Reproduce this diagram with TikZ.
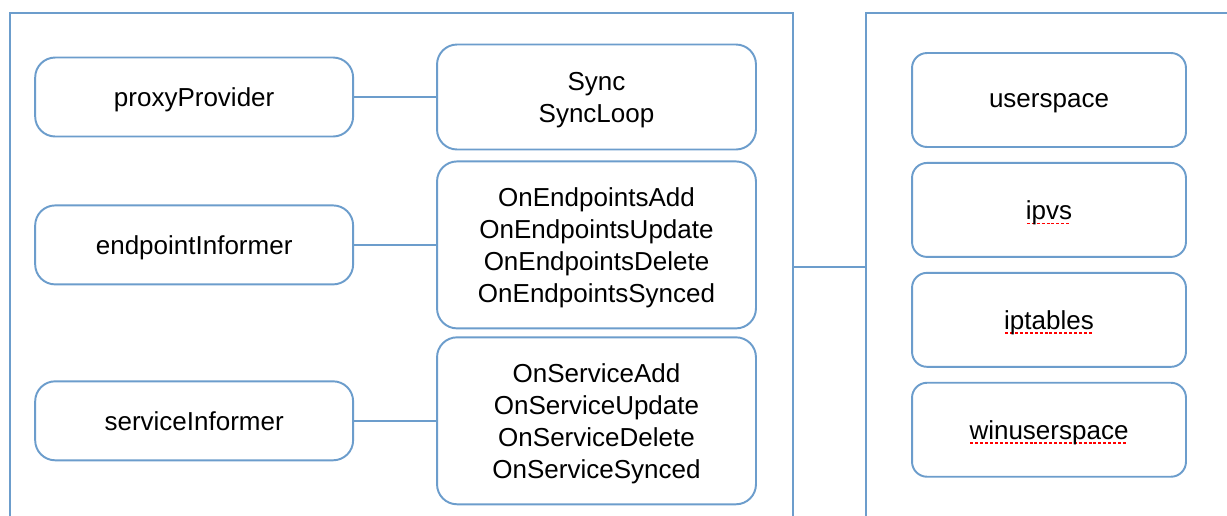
\documentclass[tikz,border=0pt]{standalone}
\usepackage{fontspec}
\setmainfont{Liberation Sans}
\usetikzlibrary{positioning}

\definecolor{frameblue}{RGB}{108,157,204}

% red spell-check marks under a word
\newcommand{\typo}[1]{\setbox0=\hbox{#1}\rlap{\raisebox{-2.9pt}{\color{red}\leaders\hbox to 2.8pt{\hss\rule{1.7pt}{1.1pt}\hss}\hskip\wd0}}\box0}

\begin{document}
\begin{tikzpicture}[
            x=0.02cm, y=-0.02cm,
            font=\fontsize{14.8}{18.2}\selectfont,
            frame/.style={draw=frameblue, line width=1.1pt},
            source/.style={rectangle, draw=frameblue, line width=1.1pt, rounded corners=0.4cm, minimum width=6.36cm, minimum height=1.58cm, align=center, text depth=0pt},
            handler/.style={rectangle, draw=frameblue, line width=1.1pt, rounded corners=0.4cm, minimum width=6.38cm, align=center, text depth=0pt},
            mode/.style={rectangle, draw=frameblue, line width=1.1pt, rounded corners=0.3cm, minimum width=5.48cm, minimum height=1.88cm, align=center, text depth=0pt},
            link/.style={draw=frameblue, line width=1.1pt}
        ]

        \useasboundingbox[fill=white] (0,0) rectangle (1227,515);

        % outer frames, open at the bottom
        \draw [frame] (10,530) -- (10,13) -- (793,13) -- (793,530);
        \draw [frame] (866,530) -- (866,13) -- (1240,13);
        \coordinate (proxier) at (793,267);
        \coordinate (modes) at (866,267);

        \node (sync) [handler, minimum height=2.1cm] at (596.5,97) {Sync\\SyncLoop};
        \node (endpoints) [handler, minimum height=3.34cm, below=0.2cm of sync] {OnEndpointsAdd\\OnEndpointsUpdate\\OnEndpointsDelete\\OnEndpointsSynced};
        \node (services) [handler, minimum height=3.34cm, below=0.14cm of endpoints] {OnServiceAdd\\OnServiceUpdate\\OnServiceDelete\\OnServiceSynced};

        \node (proxy) [source, left=1.64cm of sync] {proxyProvider};
        \node (endpoint) [source, left=1.64cm of endpoints] {endpointInformer};
        \node (service) [source, left=1.64cm of services] {serviceInformer};

        \node (userspace) [mode] at (1049,100) {userspace};
        \node (ipvs) [mode, below=0.28cm of userspace] {\typo{ipvs}};
        \node (iptables) [mode, below=0.28cm of ipvs] {\typo{iptables}};
        \node (winuserspace) [mode, below=0.28cm of iptables] {\typo{winuserspace}};

        \draw [link] (proxy) -- (sync);
        \draw [link] (endpoint) -- (endpoints);
        \draw [link] (service) -- (services);
        \draw [link] (proxier) -- (modes);
        \end{tikzpicture}
\end{document}
